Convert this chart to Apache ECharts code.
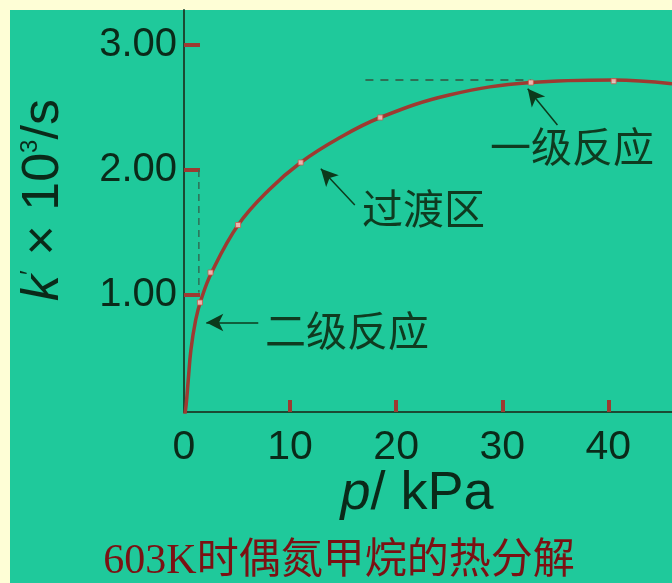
<!DOCTYPE html>
<html>
<head>
<meta charset="utf-8">
<script src="https://cdn.jsdelivr.net/npm/echarts@6/dist/echarts.min.js"></script>
<style>
  html, body { margin: 0; padding: 0; background: #fefed6; }
  #chart { width: 672px; height: 583px; }
</style>
</head>
<body>
<div id="chart"></div>
<script>
// curve: pressure (kPa) vs k' x 10^3 (1/s)
const curveP = [0, 0.2, 0.4, 0.65, 1.1, 1.6, 2.6, 5.1, 8, 11.0, 14.5, 18.5, 25, 32.7, 40.5, 46];
const curveK = [0, 0.12, 0.32, 0.56, 0.80, 0.96, 1.18, 1.56, 1.84, 2.06, 2.25, 2.42, 2.60, 2.70, 2.72, 2.69];

// measured points marked on the curve
const pointP = [1.5, 2.5, 5.1, 11.0, 18.5, 32.7, 40.5];
const pointK = [0.94, 1.18, 1.56, 2.06, 2.42, 2.70, 2.71];

// dashed guides
const guideVP = [1.4, 1.4];
const guideVK = [2.0, 1.02];
const guideHP = [17.1, 32.7];
const guideHK = [2.72, 2.72];

// annotation arrows [tailP, tailK, tipP, tipK]
const arrows = [
  [7.0, 0.78, 2.1, 0.78],
  [16.1, 1.72, 12.9, 2.01],
  [35.2, 2.36, 32.4, 2.65]
];

const xTicks = [10, 20, 30, 40];
const xLabels = [0, 10, 20, 30, 40];
const yTicks = [1, 2, 3];

const chart = echarts.init(document.getElementById('chart'));

const textDark = '#0a2a19';
const annoColor = '#0f3b20';
const red = '#9e3a31';

const sans = 'Liberation Sans';

chart.setOption({
  backgroundColor: '#fefed6',
  animation: false,
  grid: { left: 184, top: 10, right: 0, bottom: 171 },
  xAxis: {
    type: 'value',
    min: 0,
    max: 46,
    axisLine: { show: true, lineStyle: { color: '#1b4a33', width: 2 } },
    axisTick: { show: true, inside: true, length: 12, customValues: xTicks, lineStyle: { color: red, width: 4 } },
    axisLabel: { customValues: xLabels, color: textDark, fontSize: 41, fontFamily: sans, margin: 15 },
    splitLine: { show: false }
  },
  yAxis: {
    type: 'value',
    min: 0.064,
    max: 3.28,
    axisLine: { show: true, lineStyle: { color: '#1b4a33', width: 2 } },
    axisTick: { show: true, inside: true, length: 16, customValues: yTicks, lineStyle: { color: red, width: 4 } },
    axisLabel: {
      customValues: yTicks, color: textDark, fontSize: 40, fontFamily: sans, margin: 7,
      formatter: v => v.toFixed(2)
    },
    splitLine: { show: false }
  },
  graphic: [
    { type: 'rect', z: -10, shape: { x: 10, y: 10, width: 662, height: 573 }, style: { fill: '#1fc99b' } },
    // y axis name
    { type: 'text', x: 44, y: 200, rotation: Math.PI / 2, style: {
        text: '{i|k}{s|′}{n| × 10}{sup|3}{n|/s}', align: 'center', verticalAlign: 'middle',
        rich: {
          i: { fontSize: 52, fontStyle: 'italic', fill: textDark, fontFamily: sans },
          s: { fontSize: 26, fill: textDark, fontFamily: sans, verticalAlign: 'top' },
          n: { fontSize: 52, fill: textDark, fontFamily: sans },
          sup: { fontSize: 24, fill: textDark, fontFamily: sans, verticalAlign: 'top' }
        } } },
    // x axis name
    { type: 'text', x: 417, y: 494, style: {
        text: '{i|p}{n|/ kPa}', align: 'center', verticalAlign: 'middle',
        rich: {
          i: { fontSize: 54, fontStyle: 'italic', fill: textDark, fontFamily: sans },
          n: { fontSize: 54, fill: textDark, fontFamily: sans }
        } } },
    { type: 'text', left: 265, top: 310, style: { text: '二级反应', fill: annoColor, font: '41px "Noto Sans CJK SC"' } },
    { type: 'text', left: 362, top: 188, style: { text: '过渡区', fill: annoColor, font: '41px "Noto Sans CJK SC"' } },
    { type: 'text', left: 490, top: 126, style: { text: '一级反应', fill: annoColor, font: '41px "Noto Sans CJK SC"' } },
    { type: 'text', x: 339, y: 562, style: {
        text: '603K时偶氮甲烷的热分解', fill: '#7b1113', align: 'center', verticalAlign: 'middle',
        font: '42px "Liberation Serif", "Noto Sans CJK SC"' } }
  ],
  series: [
    {
      type: 'line',
      data: guideVP.map((p, i) => [p, guideVK[i]]),
      symbol: 'none',
      lineStyle: { color: '#2f6f55', width: 1.5, type: [7, 5] },
      z: 2
    },
    {
      type: 'line',
      data: guideHP.map((p, i) => [p, guideHK[i]]),
      symbol: 'none',
      lineStyle: { color: '#2f6f55', width: 2, type: [8, 7] },
      z: 2
    },
    {
      type: 'line',
      data: curveP.map((p, i) => [p, curveK[i]]),
      smooth: 0.4,
      symbol: 'none',
      lineStyle: { color: red, width: 3.5 },
      z: 3
    },
    {
      type: 'scatter',
      data: pointP.map((p, i) => [p, pointK[i]]),
      symbol: 'rect',
      symbolSize: 5,
      itemStyle: { color: '#fbd6cf', borderColor: '#d0564c', borderWidth: 1 },
      z: 4
    },
    {
      type: 'line',
      data: [],
      markLine: {
        silent: true,
        symbol: ['none', 'arrow'],
        symbolSize: [13, 17],
        label: { show: false },
        lineStyle: { color: '#0c3a1c', width: 1.5, type: 'solid' },
        data: arrows.map(a => [{ coord: [a[0], a[1]] }, { coord: [a[2], a[3]] }])
      }
    }
  ]
});
</script>
</body>
</html>
